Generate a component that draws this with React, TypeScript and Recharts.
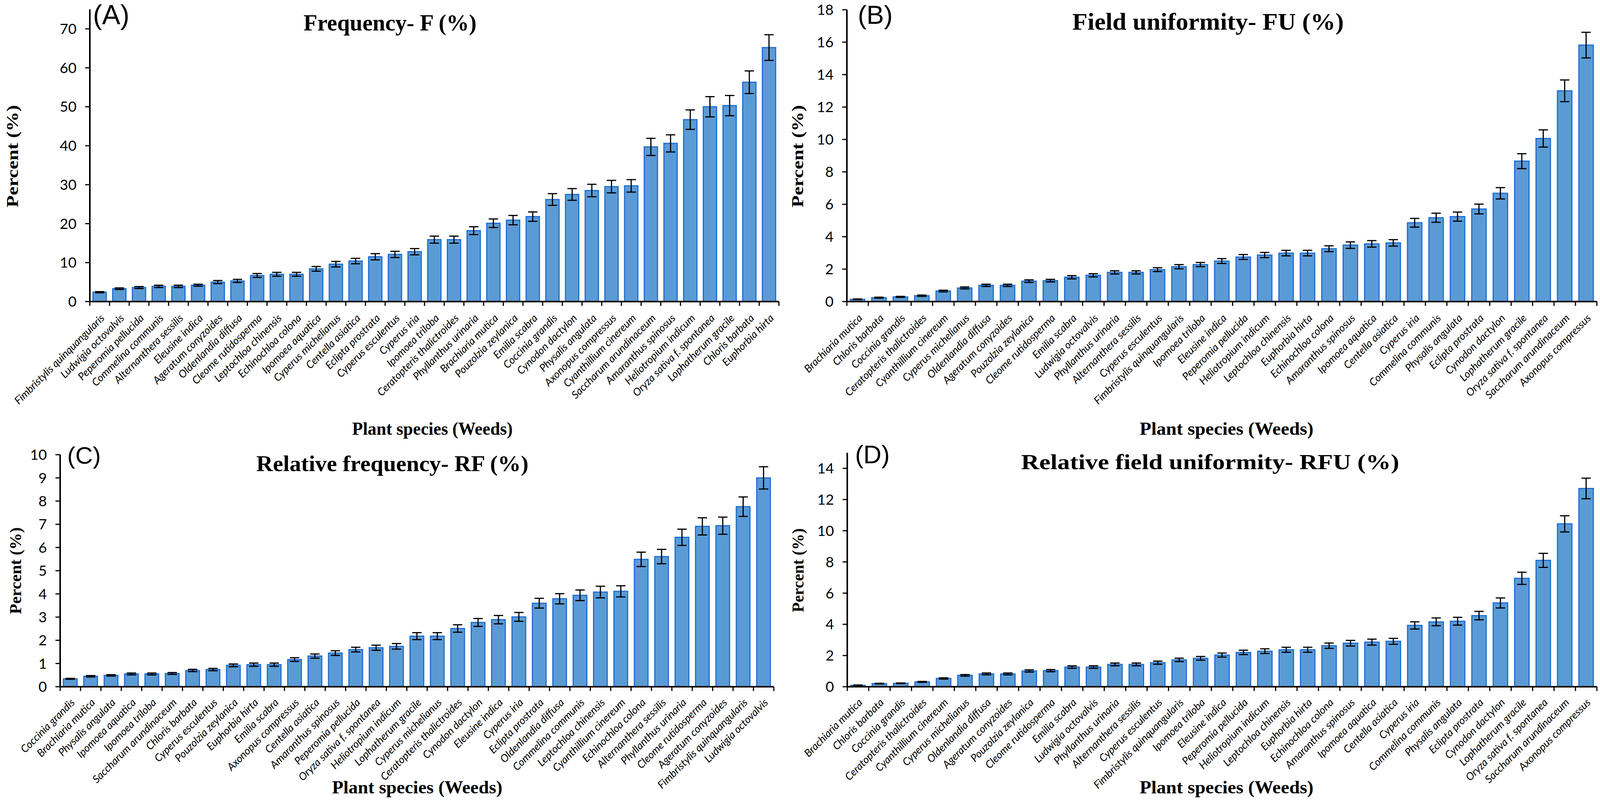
import React from "react"
import { BarChart, Bar, XAxis, YAxis, ErrorBar } from "recharts"

// Panel A: Frequency
const catsA = [
  "Fimbristylis quinquangularis", "Ludwigia octovalvis", "Peperomia pellucida", "Commelina communis",
  "Alternanthera sessilis", "Eleusine indica", "Ageratum conyzoides", "Oldenlandia diffusa",
  "Cleome rutidosperma", "Leptochloa chinensis", "Echinochloa colona", "Ipomoea aquatica",
  "Cyperus michelianus", "Centella asiatica", "Eclipta prostrata", "Cyperus esculentus",
  "Cyperus iria", "Ipomoea triloba", "Ceratopteris thalictroides", "Phyllanthus urinaria",
  "Brachiaria mutica", "Pouzolzia zeylanica", "Emilia scabra", "Coccinia grandis",
  "Cynodon dactylon", "Physalis angulata", "Axonopus compressus", "Cyanthillium cinereum",
  "Saccharum arundinaceum", "Amaranthus spinosus", "Heliotropium indicum", "Oryza sativa f. spontanea",
  "Lophatherum gracile", "Chloris barbata", "Euphorbia hirta",
]
const valsA = [2.4, 3.3, 3.6, 3.9, 3.9, 4.2, 5.0, 5.3, 6.7, 7.0, 7.0, 8.4, 9.6, 10.4, 11.5, 12.1, 12.8, 15.9, 15.9, 18.2, 20.1, 20.9, 21.8, 26.2, 27.5, 28.5, 29.5, 29.7, 39.7, 40.6, 46.7, 50.0, 50.3, 56.3, 65.2]
const errsA = [0.15, 0.2, 0.25, 0.3, 0.3, 0.25, 0.4, 0.4, 0.5, 0.5, 0.5, 0.6, 0.7, 0.7, 0.8, 0.8, 0.8, 0.9, 0.9, 1.0, 1.1, 1.2, 1.2, 1.5, 1.5, 1.6, 1.6, 1.6, 2.2, 2.2, 2.5, 2.6, 2.6, 2.9, 3.3]
const ticksA = [0, 10, 20, 30, 40, 50, 60, 70]

// Panel B: Field uniformity (same species order is used by panel D)
const catsB = [
  "Brachiaria mutica", "Chloris barbata", "Coccinia grandis", "Ceratopteris thalictroides",
  "Cyanthillium cinereum", "Cyperus michelianus", "Oldenlandia diffusa", "Ageratum conyzoides",
  "Pouzolzia zeylanica", "Cleome rutidosperma", "Emilia scabra", "Ludwigia octovalvis",
  "Phyllanthus urinaria", "Alternanthera sessilis", "Cyperus esculentus", "Fimbristylis quinquangularis",
  "Ipomoea triloba", "Eleusine indica", "Peperomia pellucida", "Heliotropium indicum",
  "Leptochloa chinensis", "Euphorbia hirta", "Echinochloa colona", "Amaranthus spinosus",
  "Ipomoea aquatica", "Centella asiatica", "Cyperus iria", "Commelina communis",
  "Physalis angulata", "Eclipta prostrata", "Cynodon dactylon", "Lophatherum gracile",
  "Oryza sativa f. spontanea", "Saccharum arundinaceum", "Axonopus compressus",
]
const valsB = [0.14, 0.24, 0.29, 0.36, 0.65, 0.84, 1.0, 1.0, 1.26, 1.29, 1.5, 1.62, 1.8, 1.8, 1.97, 2.15, 2.28, 2.5, 2.75, 2.87, 2.99, 2.99, 3.26, 3.48, 3.56, 3.62, 4.86, 5.17, 5.24, 5.71, 6.68, 8.66, 10.06, 13.0, 15.82]
const errsB = [0.02, 0.03, 0.03, 0.04, 0.05, 0.06, 0.07, 0.07, 0.08, 0.08, 0.1, 0.1, 0.1, 0.1, 0.12, 0.13, 0.13, 0.15, 0.15, 0.16, 0.17, 0.17, 0.18, 0.2, 0.2, 0.2, 0.27, 0.28, 0.28, 0.3, 0.35, 0.46, 0.53, 0.67, 0.79]
const ticksB = [0, 2, 4, 6, 8, 10, 12, 14, 16, 18]

// Panel C: Relative frequency
const catsC = [
  "Coccinia grandis", "Brachiaria mutica", "Physalis angulata", "Ipomoea aquatica",
  "Ipomoea triloba", "Saccharum arundinaceum", "Chloris barbata", "Cyperus esculentus",
  "Pouzolzia zeylanica", "Euphorbia hirta", "Emilia scabra", "Axonopus compressus",
  "Centella asiatica", "Amaranthus spinosus", "Peperomia pellucida", "Oryza sativa f. spontanea",
  "Heliotropium indicum", "Lophatherum gracile", "Cyperus michelianus", "Ceratopteris thalictroides",
  "Cynodon dactylon", "Eleusine indica", "Cyperus iria", "Eclipta prostrata",
  "Oldenlandia diffusa", "Commelina communis", "Leptochloa chinensis", "Cyanthillium cinereum",
  "Echinochloa colona", "Alternanthera sessilis", "Phyllanthus urinaria", "Cleome rutidosperma",
  "Ageratum conyzoides", "Fimbristylis quinquangularis", "Ludwigia octovalvis",
]
const valsC = [0.34, 0.45, 0.49, 0.55, 0.55, 0.57, 0.7, 0.74, 0.92, 0.95, 0.95, 1.17, 1.32, 1.45, 1.6, 1.68, 1.74, 2.18, 2.18, 2.51, 2.77, 2.89, 3.01, 3.6, 3.79, 3.94, 4.08, 4.11, 5.49, 5.61, 6.44, 6.91, 6.94, 7.76, 9.0]
const errsC = [0.02, 0.03, 0.03, 0.04, 0.04, 0.04, 0.05, 0.05, 0.06, 0.07, 0.07, 0.08, 0.09, 0.1, 0.1, 0.11, 0.12, 0.15, 0.15, 0.16, 0.17, 0.18, 0.19, 0.21, 0.22, 0.23, 0.25, 0.24, 0.31, 0.31, 0.35, 0.37, 0.37, 0.42, 0.48]
const ticksC = [0, 1, 2, 3, 4, 5, 6, 7, 8, 9, 10]

// Panel D: Relative field uniformity (categories = catsB)
const valsD = [0.09, 0.2, 0.22, 0.31, 0.53, 0.73, 0.82, 0.82, 1.01, 1.03, 1.26, 1.26, 1.43, 1.43, 1.54, 1.72, 1.82, 2.03, 2.2, 2.28, 2.37, 2.37, 2.63, 2.79, 2.86, 2.91, 3.93, 4.16, 4.2, 4.56, 5.37, 6.95, 8.1, 10.44, 12.71]
const errsD = [0.02, 0.02, 0.02, 0.03, 0.04, 0.05, 0.06, 0.06, 0.07, 0.07, 0.08, 0.08, 0.09, 0.09, 0.1, 0.11, 0.12, 0.13, 0.14, 0.15, 0.16, 0.16, 0.17, 0.18, 0.19, 0.19, 0.23, 0.25, 0.25, 0.27, 0.32, 0.39, 0.45, 0.52, 0.66]
const ticksD = [0, 2, 4, 6, 8, 10, 12, 14]

const BAR_FILL = "#5b9bd5"
const BAR_STROKE = "#1f6fd1"
const LABEL_FONT = "Lato, 'Open Sans', sans-serif"
const SERIF = "'Liberation Serif', 'DejaVu Serif', serif"

function CatTick(props: any) {
  const { x, y, payload, index, band, count, dx, dy } = props
  const left = x - band / 2
  return (
    <g>
      <line x1={left} y1={y} x2={left} y2={y + 11} stroke="#000" strokeWidth={3} />
      {index === count - 1 && (
        <line x1={x + band / 2} y1={y} x2={x + band / 2} y2={y + 11} stroke="#000" strokeWidth={3} />
      )}
      <text
        transform={`translate(${x + dx},${y + dy}) rotate(-45)`}
        textAnchor="end"
        fontFamily={LABEL_FONT}
        fontStyle="italic"
        fontSize={27}
        fill="#000"
      >
        {payload.value}
      </text>
    </g>
  )
}

type PanelProps = {
  left: number
  top: number
  width: number
  height: number
  yWidth: number
  mTop: number
  mRight: number
  xHeight: number
  plotBottom: number
  domain: [number, number]
  ticks: number[]
  cats: string[]
  vals: number[]
  errs: number[]
  tickOffset: [number, number]
}

function Panel(p: PanelProps) {
  const data = p.cats.map((name, i) => ({ name, value: p.vals[i], err: p.errs[i] }))
  const plotW = p.width - p.yWidth - p.mRight
  const band = plotW / p.cats.length
  const mBottom = p.height - p.plotBottom - p.xHeight
  return (
    <div style={{ position: "absolute", left: p.left, top: p.top, width: p.width, height: p.height }}>
      <BarChart
        width={p.width}
        height={p.height}
        data={data}
        margin={{ top: p.mTop, right: p.mRight, left: 0, bottom: mBottom }}
        barCategoryGap="16%"
      >
        <XAxis
          dataKey="name"
          interval={0}
          height={p.xHeight}
          tickSize={0}
          tickMargin={0}
          tickLine={false}
          axisLine={{ stroke: "#000", strokeWidth: 4 }}
          tick={<CatTick band={band} count={p.cats.length} dx={p.tickOffset[0]} dy={p.tickOffset[1]} />}
        />
        <YAxis
          type="number"
          domain={p.domain}
          ticks={p.ticks}
          interval={0}
          width={p.yWidth}
          tickSize={12}
          tickMargin={22}
          tickLine={{ stroke: "#000", strokeWidth: 3 }}
          axisLine={{ stroke: "#000", strokeWidth: 4 }}
          tick={{ fill: "#000", fontSize: 37, fontFamily: LABEL_FONT }}
        />
        <Bar dataKey="value" fill={BAR_FILL} stroke={BAR_STROKE} strokeWidth={3} isAnimationActive={false}>
          <ErrorBar dataKey="err" width={12} stroke="#000" strokeWidth={3} />
        </Bar>
      </BarChart>
    </div>
  )
}

function Overlay() {
  const t = { fontFamily: SERIF, fontWeight: 700, fill: "#000" }
  const sans = { fontFamily: "'Liberation Sans', Arial, sans-serif", fill: "#000" }
  return (
    <svg
      width={4166}
      height={2048}
      style={{ position: "absolute", left: 0, top: 0, pointerEvents: "none" }}
    >
      {/* panel letters */}
      <text x={238} y={62} fontSize={70} {...sans}>(A)</text>
      <text x={2196} y={61} fontSize={67} {...sans}>(B)</text>
      <text x={172} y={1187} fontSize={62} {...sans}>(C)</text>
      <text x={2189} y={1186} fontSize={64} {...sans}>(D)</text>

      {/* titles */}
      <text x={777} y={78} fontSize={60} textLength={443} lengthAdjust="spacingAndGlyphs" {...t}>Frequency- F (%)</text>
      <text x={2745} y={76} fontSize={62} textLength={695} lengthAdjust="spacingAndGlyphs" {...t}>Field uniformity- FU (%)</text>
      <text x={656} y={1206} fontSize={56} textLength={697} lengthAdjust="spacingAndGlyphs" {...t}>Relative frequency- RF (%)</text>
      <text x={2614} y={1201} fontSize={54} textLength={968} lengthAdjust="spacingAndGlyphs" {...t}>Relative field uniformity- RFU (%)</text>

      {/* y titles */}
      <text transform="translate(46,400) rotate(-90)" textAnchor="middle" fontSize={42} textLength={262} lengthAdjust="spacingAndGlyphs" {...t}>Percent (%)</text>
      <text transform="translate(2056,400) rotate(-90)" textAnchor="middle" fontSize={42} textLength={262} lengthAdjust="spacingAndGlyphs" {...t}>Percent (%)</text>
      <text transform="translate(54,1461) rotate(-90)" textAnchor="middle" fontSize={42} textLength={222} lengthAdjust="spacingAndGlyphs" {...t}>Percent (%)</text>
      <text transform="translate(2057,1460) rotate(-90)" textAnchor="middle" fontSize={42} textLength={215} lengthAdjust="spacingAndGlyphs" {...t}>Percent (%)</text>

      {/* x titles */}
      <text x={1107} y={1113} textAnchor="middle" fontSize={46} textLength={411} lengthAdjust="spacingAndGlyphs" {...t}>Plant species (Weeds)</text>
      <text x={3140} y={1113} textAnchor="middle" fontSize={46} textLength={445} lengthAdjust="spacingAndGlyphs" {...t}>Plant species (Weeds)</text>
      <text x={1068} y={2031} textAnchor="middle" fontSize={46} textLength={436} lengthAdjust="spacingAndGlyphs" {...t}>Plant species (Weeds)</text>
      <text x={3140} y={2031} textAnchor="middle" fontSize={46} textLength={445} lengthAdjust="spacingAndGlyphs" {...t}>Plant species (Weeds)</text>
    </svg>
  )
}

export default function App() {
  return (
    <div style={{ position: "absolute", left: 0, top: 0, width: 4166, height: 2048, background: "#fff", overflow: "hidden" }}>
      <Panel left={0} top={0} width={2050} height={1140} yWidth={230} mTop={24} mRight={56} xHeight={330} plotBottom={772}
        domain={[0, 75]} ticks={ticksA} cats={catsA} vals={valsA} errs={errsA} tickOffset={[14, 44]} />
      <Panel left={2050} top={0} width={2116} height={1140} yWidth={118} mTop={25} mRight={78} xHeight={330} plotBottom={772}
        domain={[0, 18]} ticks={ticksB} cats={catsB} vals={valsB} errs={errsB} tickOffset={[14, 44]} />
      <Panel left={0} top={1100} width={2050} height={948} yWidth={154} mTop={64} mRight={69} xHeight={290} plotBottom={658}
        domain={[0, 10]} ticks={ticksC} cats={catsC} vals={valsC} errs={errsC} tickOffset={[13, 42]} />
      <Panel left={2050} top={1100} width={2116} height={948} yWidth={119} mTop={59} mRight={78} xHeight={290} plotBottom={658}
        domain={[0, 15]} ticks={ticksD} cats={catsB} vals={valsD} errs={errsD} tickOffset={[13, 42]} />
      <Overlay />
    </div>
  )
}
